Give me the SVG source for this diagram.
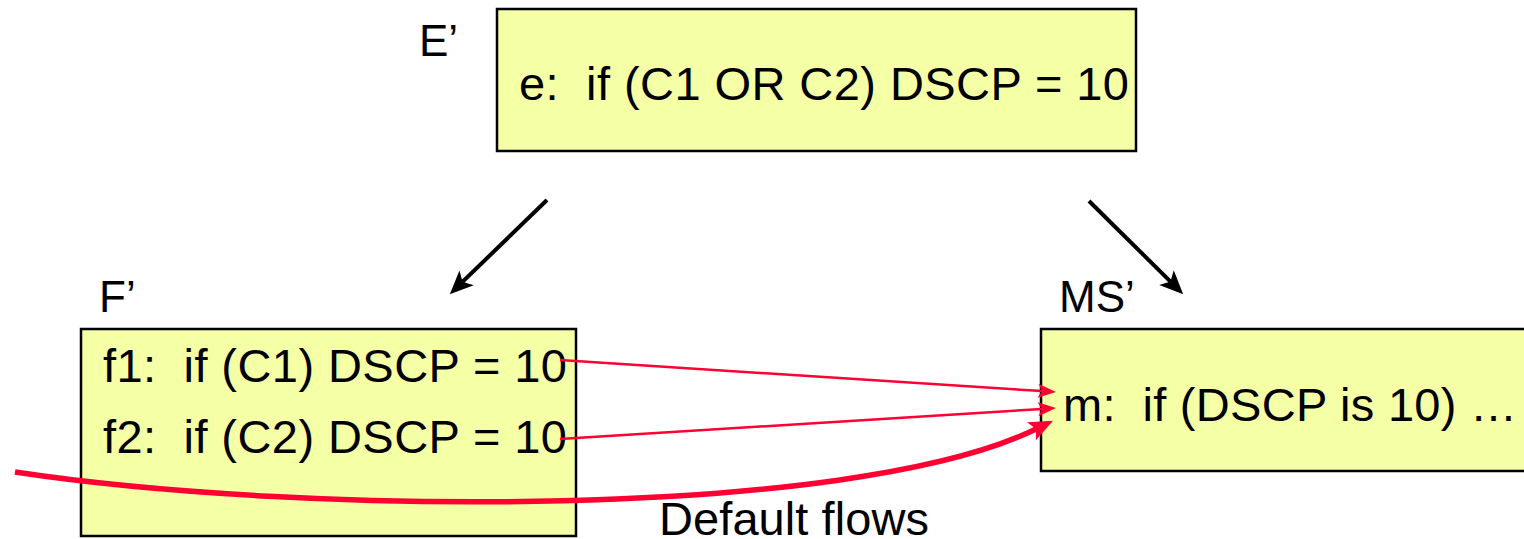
<svg xmlns="http://www.w3.org/2000/svg" width="1524" height="539" viewBox="0 0 1524 539">
  <style>
    .box { fill: #F5FFA5; stroke: #000; stroke-width: 2.5; }
    .lbl { font-family: "Liberation Sans", Arial, sans-serif; font-size: 44px; fill: #000; }
    .rule { font-family: "Liberation Sans", Arial, sans-serif; font-size: 47px; fill: #000; }
    .down { fill: none; stroke: #000; stroke-width: 4; }
    .flow { fill: none; stroke: #FF0033; stroke-width: 2.5; }
    .flow-default { fill: none; stroke: #FF0033; stroke-width: 5.5; }
  </style>
  <defs>
    <marker id="head-black" markerUnits="userSpaceOnUse" orient="auto" markerWidth="30" markerHeight="30" viewBox="-2 -14 32 28" refX="6" refY="0">
      <path d="M0,-11 L25,0 L0,11 L6,0 Z" fill="#000"/>
    </marker>
    <marker id="head-red" markerUnits="userSpaceOnUse" orient="auto" markerWidth="24" markerHeight="20" viewBox="-2 -10 24 20" refX="4" refY="0">
      <path d="M0,-7 L18,0 L0,7 L4,0 Z" fill="#FF0033"/>
    </marker>
    <marker id="head-red-thick" markerUnits="userSpaceOnUse" orient="auto" markerWidth="30" markerHeight="26" viewBox="-2 -13 30 26" refX="5" refY="0">
      <path d="M0,-10 L24,0 L0,10 L5,0 Z" fill="#FF0033"/>
    </marker>
  </defs>

  <g id="node-e">
    <rect class="box" x="497" y="9" width="639" height="142"/>
    <text class="lbl" x="419" y="56">E’</text>
    <text class="rule" x="519" y="100" xml:space="preserve" textLength="610">e:  if (C1 OR C2) DSCP = 10</text>
  </g>

  <g id="node-f">
    <rect class="box" x="81" y="329" width="495" height="207"/>
    <text class="lbl" x="99" y="312">F’</text>
    <text class="rule" x="103" y="382" xml:space="preserve" textLength="464">f1:  if (C1) DSCP = 10</text>
    <text class="rule" x="103" y="453" xml:space="preserve" textLength="464">f2:  if (C2) DSCP = 10</text>
  </g>

  <g id="node-ms">
    <rect class="box" x="1041" y="329" width="490" height="142"/>
    <text class="lbl" x="1059" y="312">MS’</text>
    <text class="rule" x="1063" y="421" xml:space="preserve" textLength="454">m:  if (DSCP is 10) …</text>
  </g>

  <g id="connectors">
    <line class="down" x1="547" y1="200" x2="462.6" y2="281.8" marker-end="url(#head-black)"/>
    <line class="down" x1="1089" y1="201" x2="1170.5" y2="281.6" marker-end="url(#head-black)"/>
    <line class="flow" x1="560" y1="360" x2="1042" y2="391.1" marker-end="url(#head-red)"/>
    <line class="flow" x1="560" y1="439" x2="1042" y2="408.9" marker-end="url(#head-red)"/>
    <path class="flow-default" d="M15,472 C300,515 850,520 1036,429" marker-end="url(#head-red-thick)"/>
    <text class="rule" x="659" y="535" textLength="270">Default flows</text>
  </g>
</svg>
